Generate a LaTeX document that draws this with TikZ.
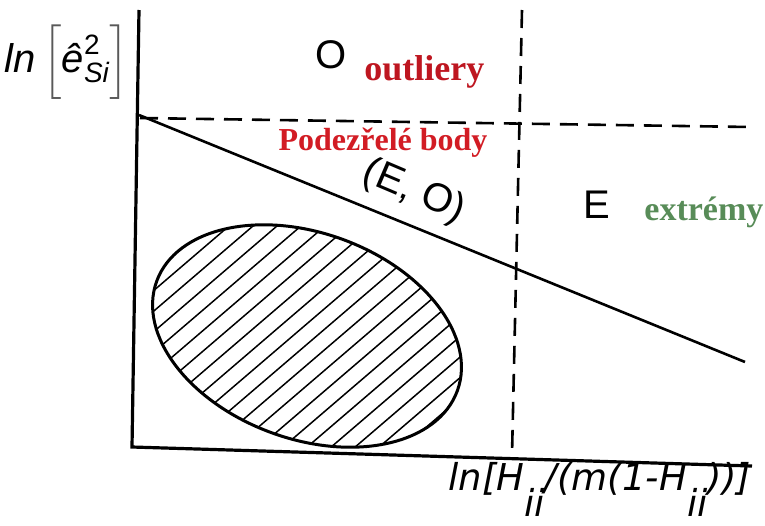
\documentclass[tikz,border=0pt]{standalone}
\usepackage{amsmath}
\usepackage{fontspec}
\usepackage{xcolor}
\usepackage{tikz}
\usetikzlibrary{calc,positioning}
\newfontfamily\helvfont{Liberation Sans}
\newfontfamily\timesfont{Liberation Serif}
\newfontfamily\dejafont{DejaVu Sans}
\definecolor{labRed}{RGB}{210,28,36}
\definecolor{labRedDark}{RGB}{190,22,32}
\definecolor{labGreen}{RGB}{88,140,88}
\tikzset{
  axisline/.style={black, line width=1.6pt},
  splitline/.style={black, line width=1.3pt, dash pattern=on 9pt off 5pt},
  hatchline/.style={black, line width=0.75pt},
  zonelabel/.style={font=\helvfont\fontsize{20}{22}\selectfont, inner sep=0pt},
  notelabel/.style={font=\timesfont\bfseries\fontsize{17}{19}\selectfont, inner sep=0pt}
}

\begin{document}
\begin{tikzpicture}[x=0.5pt, y=-0.5pt]
\useasboundingbox (0,0) rectangle (765,525);
% axes
\coordinate (orig) at (132,447);
\coordinate (ytop) at (139,10);
\coordinate (xend) at (752,466);
\draw[axisline] (ytop) -- (orig) -- (xend);

% dashed limits
\coordinate (hleft) at (140,118);
\coordinate (hright) at (750,127);
\coordinate (vtop) at (522,10);
\coordinate (vbot) at (512,455);
\draw[splitline] (hleft) -- (hright);
\draw[splitline] (vtop) -- (vbot);

% solid boundary
\coordinate (dstart) at (139,115);
\coordinate (dend) at (745,362);
\draw[black, line width=1.3pt] (dstart) -- (dend);

% hatched ellipse
\coordinate (ell) at (307,336);
\begin{scope}
  \clip[rotate around={-20:(ell)}] (ell) ellipse (160 and 103);
  \foreach \d in {-140,-116,...,480}
  {
      \draw[hatchline] (\d,460) -- (\d+280,220);
  }
\end{scope}
\draw[black, line width=1.5pt, rotate around={-20:(ell)}] (ell) ellipse (160 and 103);

% labels
\node[zonelabel] (zoneO) at (331,55) {O};
\node[notelabel, text=labRedDark, anchor=base west, font=\timesfont\bfseries\fontsize{18}{20}\selectfont] (outl) at (364,80) {outliery};
\node[notelabel, text=labRed, font=\timesfont\bfseries\fontsize{16}{18}\selectfont] (susp) at (383,143) {Podezřelé body};
\node[zonelabel, rotate=-23] (zoneEO) at (414,192) {(E, O)};
\node[zonelabel] (zoneE) at (597,205) {E};
\node[notelabel, text=labGreen, anchor=base west] (extr) at (644,220) {extrémy};

\node[font=\helvfont\itshape\fontsize{20}{22}\selectfont, inner sep=0pt, anchor=west] (ylab) at (4,62)
  {ln\,$\color{black!65}\Bigl[\color{black}\text{\helvfont\itshape ê}^{\text{\helvfont\upshape 2}}_{\text{\helvfont\itshape Si}}\color{black!65}\Bigr]$};
\node[font=\dejafont\itshape\fontsize{18.5}{20}\selectfont, inner sep=0pt, anchor=base west] (xlab) at (448,490)
  {ln[H\raisebox{-13pt}{ii}/(m(1-H\raisebox{-13pt}{ii}))]};
\end{tikzpicture}
\end{document}
